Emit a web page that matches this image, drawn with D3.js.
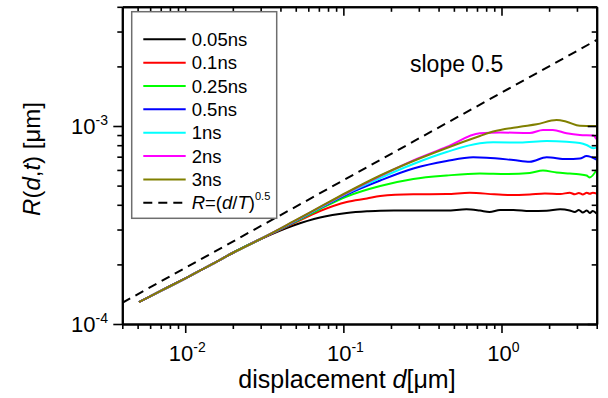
<!DOCTYPE html>
<html>
<head>
<meta charset="utf-8">
<script src="https://cdn.jsdelivr.net/npm/d3@7"></script>
<style>
  html, body { margin: 0; padding: 0; background: #fff; }
  svg { display: block; }
  text { font-family: "Liberation Sans", Arial, sans-serif; fill: #000; }
</style>
</head>
<body>
<svg id="chart" width="608" height="398"></svg>
<script>
// ---------------- data ----------------
const seriesNames = ["0.05ns", "0.1ns", "0.25ns", "0.5ns", "1ns", "2ns", "3ns"];
const seriesColors = ["#000000", "#ff0000", "#00ff00", "#0000ff", "#00ffff", "#ff00ff", "#808000"];

// common early part shared by all curves
const commonD = [0.0051, 0.00695, 0.01025, 0.0150, 0.0202, 0.0298];
const commonR = [1.291e-4, 1.465e-4, 1.717e-4, 2.016e-4, 2.297e-4, 2.68e-4];

const blackD = [0.0483, 0.0712, 0.105, 0.141, 0.171, 0.277, 0.45, 0.60, 0.73, 0.84, 0.98, 1.19, 1.51, 1.93, 2.35, 2.70, 2.909, 3.083, 3.268, 3.464, 3.617, 3.78, 3.99];
const blackR = [3.145e-4, 3.451e-4, 3.637e-4, 3.709e-4, 3.735e-4, 3.74e-4, 3.74e-4, 3.797e-4, 3.74e-4, 3.68e-4, 3.766e-4, 3.766e-4, 3.722e-4, 3.735e-4, 3.797e-4, 3.744e-4, 3.68e-4, 3.766e-4, 3.658e-4, 3.744e-4, 3.637e-4, 3.722e-4, 3.616e-4];

const redD = [0.0483, 0.0712, 0.105, 0.141, 0.171, 0.277, 0.45, 0.63, 0.90, 1.13, 1.51, 1.88, 2.35, 2.70, 2.909, 3.083, 3.268, 3.464, 3.617, 3.78, 3.99];
const redR = [3.218e-4, 3.722e-4, 4.133e-4, 4.303e-4, 4.43e-4, 4.52e-4, 4.535e-4, 4.60e-4, 4.52e-4, 4.48e-4, 4.51e-4, 4.56e-4, 4.535e-4, 4.60e-4, 4.52e-4, 4.59e-4, 4.51e-4, 4.60e-4, 4.55e-4, 4.60e-4, 4.56e-4];

const greenD = [0.0483, 0.0712, 0.105, 0.171, 0.277, 0.45, 0.73, 1.08, 1.51, 1.83, 2.23, 2.70, 3.08, 3.45, 3.62, 3.99];
const greenR = [3.244e-4, 3.81e-4, 4.405e-4, 4.977e-4, 5.40e-4, 5.623e-4, 5.755e-4, 5.72e-4, 5.79e-4, 5.96e-4, 5.82e-4, 5.75e-4, 5.70e-4, 5.62e-4, 5.50e-4, 6.0e-4];

const blueD = [0.0483, 0.0712, 0.105, 0.171, 0.277, 0.45, 0.662, 0.805, 1.19, 1.51, 1.93, 2.58, 3.13, 3.45, 3.99];
const blueR = [3.263e-4, 3.855e-4, 4.51e-4, 5.306e-4, 6.10e-4, 6.657e-4, 6.95e-4, 6.92e-4, 6.73e-4, 6.60e-4, 6.95e-4, 6.81e-4, 6.85e-4, 7.05e-4, 6.77e-4];

const cyanD = [0.0483, 0.0712, 0.105, 0.171, 0.277, 0.45, 0.73, 0.886, 1.31, 1.93, 2.58, 3.13, 3.45, 3.80, 3.99];
const cyanR = [3.275e-4, 3.873e-4, 4.562e-4, 5.465e-4, 6.43e-4, 7.39e-4, 8.18e-4, 8.27e-4, 8.25e-4, 8.40e-4, 8.33e-4, 8.21e-4, 8.02e-4, 7.72e-4, 7.78e-4];

const magentaD = [0.0483, 0.0712, 0.105, 0.171, 0.277, 0.45, 0.73, 0.98, 1.51, 1.83, 2.11, 2.58, 3.13, 3.80, 3.99];
const magentaR = [3.286e-4, 3.891e-4, 4.588e-4, 5.59e-4, 6.697e-4, 7.834e-4, 9.19e-4, 9.27e-4, 9.22e-4, 9.54e-4, 9.54e-4, 9.19e-4, 9.01e-4, 8.96e-4, 8.57e-4];

const oliveD = [0.0483, 0.0712, 0.105, 0.171, 0.277, 0.45, 0.73, 0.886, 1.31, 1.67, 2.23, 2.58, 3.13, 3.80, 3.99];
const oliveR = [3.294e-4, 3.90e-4, 4.615e-4, 5.623e-4, 6.657e-4, 7.743e-4, 8.90e-4, 9.38e-4, 9.92e-4, 1.02e-3, 1.072e-3, 1.051e-3, 1.003e-3, 1.0e-3, 1.0e-3];

// dashed guide line R=(d/T)^0.5
const dashD = [0.004, 4];
const dashR = [1.28e-4, 2.72e-3];

// axes
const xDomain = [0.004, 4];
const yDomain = [1e-4, 4e-3];
const xMajorTicks = [0.01, 0.1, 1];
const xTickExps = ["-2", "-1", "0"];
const yMajorTicks = [1e-4, 1e-3];
const yTickExps = ["-4", "-3"];

// ---------------- drawing ----------------
const svg = d3.select("#chart");
const L = 122.3, R = 596.7, T = 6.8, B = 324;
const x = d3.scaleLog().domain(xDomain).range([L, R]);
const y = d3.scaleLog().domain(yDomain).range([B, T]);

function minorTicks(domain, majors) {
  const out = [];
  for (let k = -5; k <= 2; k++) {
    for (let m = 1; m <= 9; m++) {
      const v = m * Math.pow(10, k);
      if (v >= domain[0] * 0.9999 && v <= domain[1] * 1.0001 &&
          !majors.some(t => Math.abs(t - v) / v < 1e-6)) out.push(v);
    }
  }
  return out;
}
const xMinor = minorTicks(xDomain, xMajorTicks);
const yMinor = minorTicks(yDomain, yMajorTicks);

const series = [
  [blackD, blackR], [redD, redR], [greenD, greenR], [blueD, blueR],
  [cyanD, cyanR], [magentaD, magentaR], [oliveD, oliveR]
].map(([ds, rs], i) => ({
  name: seriesNames[i], color: seriesColors[i],
  pts: commonD.map((d, j) => [d, commonR[j]]).concat(ds.map((d, j) => [d, rs[j]]))
}));

svg.append("defs").append("clipPath").attr("id", "clip")
  .append("rect").attr("x", L).attr("y", T).attr("width", R - L).attr("height", B - T);

const line = d3.line().x(p => x(p[0])).y(p => y(p[1])).curve(d3.curveMonotoneX);
const plot = svg.append("g").attr("clip-path", "url(#clip)");

plot.append("path")
  .attr("d", d3.line().x(p => x(p[0])).y(p => y(p[1]))(dashD.map((d, i) => [d, dashR[i]])))
  .attr("fill", "none").attr("stroke", "#000").attr("stroke-width", 2)
  .attr("stroke-dasharray", "9,6");

series.forEach(s => {
  plot.append("path").attr("d", line(s.pts))
    .attr("fill", "none").attr("stroke", s.color).attr("stroke-width", 2)
    .attr("stroke-linejoin", "round");
});

// axes
function styleAxis(g) {
  g.selectAll("path.domain").attr("stroke", "#000").attr("stroke-width", 2);
  g.selectAll(".tick line").attr("stroke", "#000").attr("stroke-width", 1.6);
  g.selectAll(".tick text").remove();
}
const axes = [
  [d3.axisBottom(x), `translate(0,${B})`],
  [d3.axisBottom(x), `translate(0,${T})`],
  [d3.axisLeft(y), `translate(${L},0)`],
  [d3.axisLeft(y), `translate(${R},0)`]
];
axes.forEach(([ax, tr], i) => {
  const isX = i < 2;
  const majors = isX ? xMajorTicks : yMajorTicks;
  const minors = isX ? xMinor : yMinor;
  svg.append("g").attr("transform", tr)
    .call(ax.tickValues(majors).tickSize(9).tickSizeOuter(0)).call(styleAxis);
  svg.append("g").attr("transform", tr)
    .call(ax.tickValues(minors).tickSize(5).tickSizeOuter(0)).call(styleAxis);
});

// tick labels
xMajorTicks.forEach((v, i) => {
  const t = svg.append("text").attr("x", x(v) + 2).attr("y", 361)
    .attr("text-anchor", "middle").attr("font-size", 22);
  t.append("tspan").text("10");
  t.append("tspan").attr("font-size", 14).attr("dy", -9).text(xTickExps[i]);
});
yMajorTicks.forEach((v, i) => {
  const t = svg.append("text").attr("x", 108).attr("y", y(v) + 8)
    .attr("text-anchor", "end").attr("font-size", 22);
  t.append("tspan").text("10");
  t.append("tspan").attr("font-size", 14).attr("dy", -9).text(yTickExps[i]);
});

// axis titles
const xt = svg.append("text").attr("x", 347).attr("y", 388)
  .attr("text-anchor", "middle").attr("font-size", 25);
xt.append("tspan").text("displacement ");
xt.append("tspan").attr("font-style", "italic").text("d");
xt.append("tspan").text("[\u03bcm]");

const yt = svg.append("text").attr("transform", "translate(40,159) rotate(-90)")
  .attr("text-anchor", "middle").attr("font-size", 24);
yt.append("tspan").attr("font-style", "italic").text("R");
yt.append("tspan").text("(");
yt.append("tspan").attr("font-style", "italic").text("d");
yt.append("tspan").text(",");
yt.append("tspan").attr("font-style", "italic").text("t");
yt.append("tspan").text(") [\u03bcm]");

// annotation
svg.append("text").attr("x", 410).attr("y", 72).attr("font-size", 23).text("slope 0.5");

// legend
const lg = svg.append("g");
lg.append("rect").attr("x", 131.7).attr("y", 11.7).attr("width", 145).attr("height", 206.6)
  .attr("fill", "#fff").attr("stroke", "#6e6e6e").attr("stroke-width", 1.5);
const rowY = i => 39.3 + i * 23.35;
series.forEach((s, i) => {
  lg.append("line").attr("x1", 143.3).attr("x2", 185.7).attr("y1", rowY(i)).attr("y2", rowY(i))
    .attr("stroke", s.color).attr("stroke-width", 2);
  lg.append("text").attr("x", 191.7).attr("y", rowY(i) + 6.5).attr("font-size", 18.5).text(s.name);
});
const di = series.length;
lg.append("line").attr("x1", 143.3).attr("x2", 185.7).attr("y1", rowY(di)).attr("y2", rowY(di))
  .attr("stroke", "#000").attr("stroke-width", 2).attr("stroke-dasharray", "9,6");
const lt = lg.append("text").attr("x", 191.7).attr("y", rowY(di) + 6.5).attr("font-size", 18.5);
lt.append("tspan").attr("font-style", "italic").text("R");
lt.append("tspan").text("=(");
lt.append("tspan").attr("font-style", "italic").text("d");
lt.append("tspan").text("/");
lt.append("tspan").attr("font-style", "italic").text("T");
lt.append("tspan").text(")");
lt.append("tspan").attr("font-size", 11).attr("dy", -9).text("0.5");
</script>
</body>
</html>
